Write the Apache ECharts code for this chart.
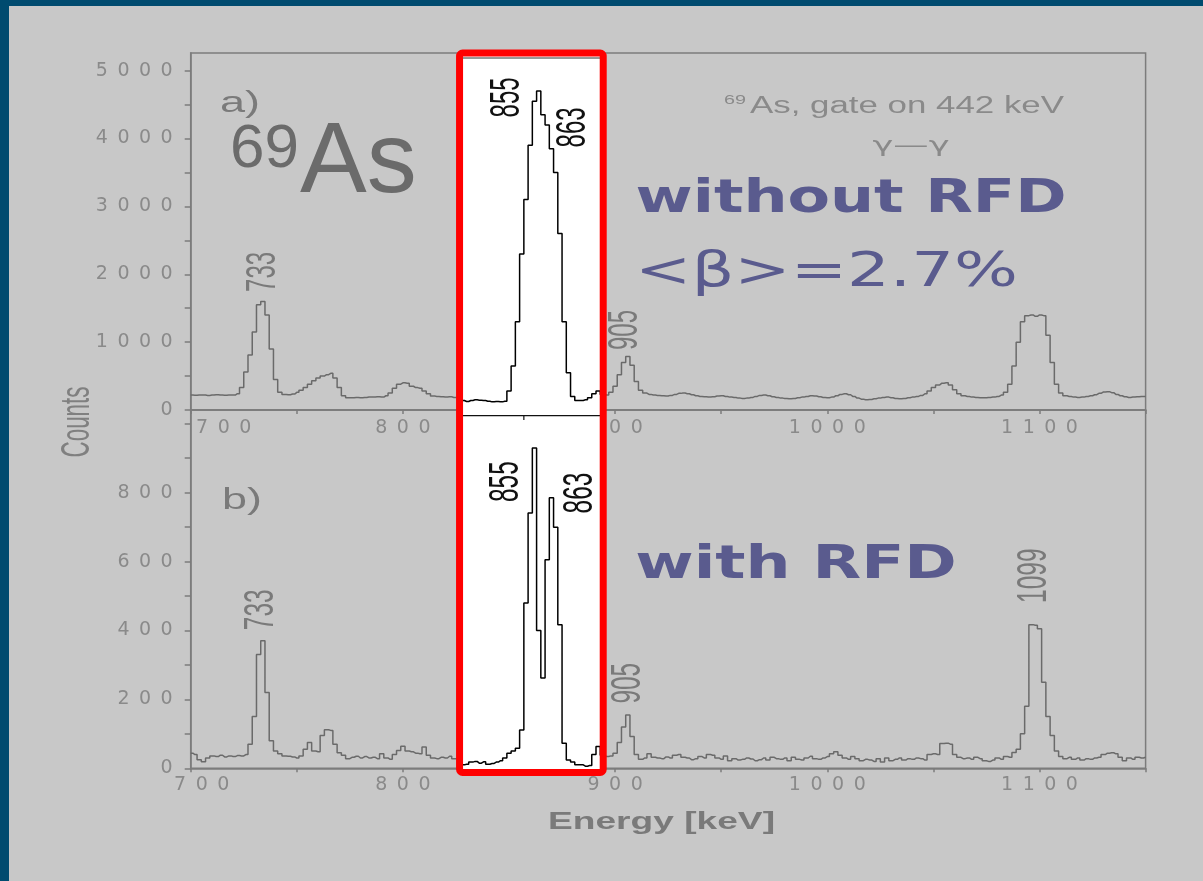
<!DOCTYPE html>
<html><head><meta charset="utf-8">
<script src="https://cdn.jsdelivr.net/npm/echarts@6/dist/echarts.min.js"></script>
<style>
html,body{margin:0;padding:0;width:1203px;height:881px;overflow:hidden;background:#004b6f;}
#bg{position:absolute;left:9px;top:6px;right:0;bottom:0;background:#c8c8c8;}
#chart{position:absolute;left:0;top:0;width:1203px;height:881px;}
</style></head><body><div id="bg"></div><div id="chart"></div>
<script>
// ---- data: panel a) without RFD, [energy keV, counts] ----
const spectrumA = [
[700,220],[702,218],[704,222],[706,220],[708,215],[710,220],[712,225],[714,220],[716,218],[718,222],
[720,220],[722,240],[724,330],[726,560],[728,810],[730,1150],[732,1550],[734,1600],[736,1400],[738,900],
[740,450],[742,260],[744,230],[746,225],[748,235],[750,260],[752,290],[754,330],[756,380],[758,430],
[760,470],[762,500],[764,520],[766,540],[768,470],[770,330],[772,210],[774,180],[776,180],[778,185],
[780,180],[782,185],[784,190],[786,190],[788,195],[790,190],[792,210],[794,250],[796,320],[798,380],
[800,400],[802,395],[804,350],[806,330],[808,320],[810,280],[812,240],[814,205],[816,200],[818,195],
[820,190],[822,195],[824,185],[826,190],[828,140],[830,125],[832,140],[834,150],[836,145],[838,140],
[840,130],[842,120],[844,125],[846,120],[848,130],[850,280],[852,650],[854,1300],[856,2300],[858,3100],
[860,3900],[862,4550],[864,4700],[866,4350],[868,4200],[870,3850],[872,3500],[874,2600],[876,1300],[878,550],
[880,200],[882,140],[884,140],[886,150],[888,180],[890,240],[892,280],[894,230],[896,220],[898,260],
[900,350],[902,520],[904,700],[906,790],[908,660],[910,420],[912,290],[914,250],[916,230],[918,220],
[920,215],[922,210],[924,205],[926,215],[928,230],[930,245],[932,250],[934,240],[936,225],[938,210],
[940,200],[942,195],[944,190],[946,195],[948,205],[950,210],[952,200],[954,190],[956,185],[958,175],
[960,170],[962,175],[964,185],[966,200],[968,215],[970,220],[972,210],[974,195],[976,185],[978,175],
[980,170],[982,165],[984,170],[986,180],[988,190],[990,200],[992,210],[994,205],[996,195],[998,185],
[1000,180],[1002,190],[1004,210],[1006,230],[1008,240],[1010,225],[1012,200],[1014,175],[1016,160],[1018,150],
[1020,155],[1022,165],[1024,175],[1026,185],[1028,190],[1030,180],[1032,170],[1034,165],[1036,170],[1038,180],
[1040,190],[1042,200],[1044,215],[1046,240],[1048,280],[1050,330],[1052,370],[1054,395],[1056,400],[1058,370],
[1060,300],[1062,240],[1064,210],[1066,200],[1068,190],[1070,185],[1072,180],[1074,180],[1076,185],[1078,190],
[1080,200],[1082,220],[1084,260],[1086,380],[1088,650],[1090,1000],[1092,1300],[1094,1390],[1096,1400],[1098,1380],
[1100,1400],[1102,1390],[1104,1100],[1106,700],[1108,380],[1110,250],[1112,210],[1114,200],[1116,190],[1118,185],
[1120,190],[1122,200],[1124,210],[1126,225],[1128,245],[1130,265],[1132,270],[1134,255],[1136,230],[1138,210],
[1140,195],[1142,185],[1144,190],[1146,195],[1148,200],[1150,200]
];
// ---- data: panel b) with RFD ----
const spectrumB = [
[700,44],[702,40],[704,25],[706,19],[708,30],[710,36],[712,34],[714,38],[716,33],[718,36],
[720,34],[722,37],[724,36],[726,40],[728,70],[730,150],[732,330],[734,370],[736,220],[738,80],
[740,50],[742,42],[744,36],[746,35],[748,33],[750,30],[752,36],[754,55],[756,75],[758,50],
[760,48],[762,95],[764,112],[766,110],[768,70],[770,45],[772,38],[774,28],[776,32],[778,35],
[780,30],[782,34],[784,30],[786,32],[788,28],[790,42],[792,30],[794,26],[796,40],[798,52],
[800,64],[802,50],[804,48],[806,44],[808,42],[810,62],[812,38],[814,30],[816,28],[818,32],
[820,30],[822,35],[824,28],[826,30],[828,10],[830,12],[832,18],[834,20],[836,15],[838,19],
[840,12],[842,14],[844,18],[846,22],[848,30],[850,44],[852,50],[854,58],[856,111],[858,480],
[860,741],[862,930],[864,400],[866,262],[868,605],[870,785],[872,700],[874,417],[876,73],[878,24],
[880,18],[882,10],[884,10],[886,6],[888,8],[890,40],[892,63],[894,38],[896,34],[898,36],
[900,44],[902,75],[904,120],[906,155],[908,92],[910,40],[912,26],[914,30],[916,42],[918,32],
[920,30],[922,28],[924,33],[926,30],[928,38],[930,40],[932,32],[934,30],[936,25],[938,28],
[940,34],[942,30],[944,40],[946,38],[948,30],[950,26],[952,36],[954,22],[956,28],[958,24],
[960,26],[962,30],[964,27],[966,22],[968,25],[970,30],[972,24],[974,32],[976,28],[978,26],
[980,30],[982,22],[984,32],[986,26],[988,24],[990,30],[992,35],[994,28],[996,26],[998,30],
[1000,34],[1002,42],[1004,48],[1006,38],[1008,30],[1010,26],[1012,34],[1014,28],[1016,22],[1018,26],
[1020,24],[1022,20],[1024,28],[1026,18],[1028,30],[1030,22],[1032,26],[1034,30],[1036,24],[1038,28],
[1040,26],[1042,30],[1044,28],[1046,24],[1048,40],[1050,42],[1052,40],[1054,72],[1056,73],[1058,70],
[1060,40],[1062,32],[1064,28],[1066,30],[1068,26],[1070,32],[1072,28],[1074,22],[1076,20],[1078,24],
[1080,30],[1082,26],[1084,34],[1086,32],[1088,46],[1090,55],[1092,100],[1094,180],[1096,417],[1098,415],
[1100,405],[1102,250],[1104,150],[1106,95],[1108,50],[1110,34],[1112,28],[1114,32],[1116,26],[1118,30],
[1120,24],[1122,28],[1124,26],[1126,30],[1128,32],[1130,40],[1132,44],[1134,45],[1136,42],[1138,32],
[1140,22],[1142,30],[1144,26],[1146,32],[1148,30],[1150,32]
];
// ---- axes ----
const xRange = [700, 1150];
const xTicks = [700,750,800,850,900,950,1000,1050,1100,1150];
const xLabels = [700,800,900,1000,1100];
const yMaxA = 5260, yTicksA = [0,500,1000,1500,2000,2500,3000,3500,4000,4500,5000], yLabelsA = [0,1000,2000,3000,4000,5000];
const yMaxB = 1040, yTicksB = [0,100,200,300,400,500,600,700,800,900,1000], yLabelsB = [0,200,400,600,800];
// highlighted window (keV)
const rfdBox = [826.7, 894.4];
// peak labels: [text, energy, counts] (label centre in data space)
const peakLabelsA = [['733',733.9,2034,'#7a7a7a'],['855',849.0,4605,'#111'],['863',880.0,4163,'#111'],['905',904.8,1179,'#7a7a7a']];
const peakLabelsB = [['733',733.1,460,'#7a7a7a'],['855',848.7,832,'#111'],['863',883.5,799,'#111'],['905',906.0,247,'#7a7a7a'],['1099',1097.4,559,'#7a7a7a']];

const GRAY = '#7c7c7c', LINE = '#6a6a6a', TXT = '#8a8a8a';
const FONT = "'Liberation Sans', Arial, sans-serif";
const TICKFONT = "'DejaVu Sans', sans-serif";
const sp = v => String(v).split('').join('\u2002');

function xAxisCfg(grid, padMin, margin){
  return {type:'value', gridIndex:grid, min:xRange[0], max:xRange[1],
    axisLine:{show:true, onZero:false, lineStyle:{color:GRAY, width:1.5}},
    axisTick:{show:true, length:4, customValues:xTicks, lineStyle:{color:GRAY, width:1.5}},
    axisLabel:{customValues:xLabels, margin:margin, color:TXT, fontSize:19, fontFamily:TICKFONT,
      formatter: v => v === xRange[0] ? '{p|' + sp(v) + '}' : sp(v),
      rich:{p:{padding:[0,0,0,padMin], color:TXT, fontSize:19, fontFamily:TICKFONT}}},
    splitLine:{show:false}};
}
function yAxisCfg(grid, max, ticks, labels){
  return {type:'value', gridIndex:grid, min:0, max:max,
    axisLine:{show:true, lineStyle:{color:GRAY, width:1.5}},
    axisTick:{show:true, length:6, customValues:ticks, lineStyle:{color:GRAY, width:1.5}},
    axisLabel:{customValues:labels, margin:18, color:TXT, fontSize:19, fontFamily:TICKFONT, formatter: v => sp(v)},
    splitLine:{show:false}};
}

const chart = echarts.init(document.getElementById('chart'), null, {renderer:'canvas'});
const option = {
  backgroundColor:'transparent',
  animation:false,
  grid:[
    {left:190.7, top:53, width:954.9, height:357, show:true, borderColor:GRAY, borderWidth:1.5, backgroundColor:'transparent'},
    {left:190.7, top:410, width:954.9, height:358.3, show:true, borderColor:GRAY, borderWidth:1.5, backgroundColor:'transparent'}
  ],
  xAxis:[xAxisCfg(0, 66, 9), xAxisCfg(1, 22, 7)],
  yAxis:[yAxisCfg(0, yMaxA, yTicksA, yLabelsA), yAxisCfg(1, yMaxB, yTicksB, yLabelsB)],
  visualMap:[0,1].map(i => ({type:'piecewise', show:false, dimension:0, seriesIndex:i,
    pieces:[{min:rfdBox[0], max:rfdBox[1], color:'#000000'}], outOfRange:{color:LINE}})),
  series:[
    {name:'without RFD', type:'line', xAxisIndex:0, yAxisIndex:0, step:'middle', symbol:'none', data:spectrumA, lineStyle:{width:1.5}, z:5},
    {name:'with RFD', type:'line', xAxisIndex:1, yAxisIndex:1, step:'middle', symbol:'none', data:spectrumB, lineStyle:{width:1.5}, z:5}
  ]
};
chart.setOption(option);

// ---- annotations ----
const mctx = document.createElement('canvas').getContext('2d');
function mw(text, font){ mctx.font = font; return mctx.measureText(text).width; }
function htext(text, cx, cy, size, len, fill, opts){
  opts = opts || {};
  const font = (opts.weight || 'normal') + ' ' + size + 'px ' + (opts.family || FONT);
  const sx = len / mw(text, font);
  return {type:'text', x:cx, y:cy, scaleX:sx, scaleY:opts.sy || 1, z:60,
    style:{text:text, font:font, fill:fill, align:opts.align || 'center', verticalAlign:'middle'}};
}
function vtext(text, cx, cy, size, len, sy, fill, weight){
  const font = (weight || 'normal') + ' ' + size + 'px ' + FONT;
  const sx = len / mw(text, font);
  return {type:'text', x:cx, y:cy, rotation:Math.PI/2, scaleX:sx, scaleY:sy, z:60,
    style:{text:text, font:font, fill:fill, align:'center', verticalAlign:'middle'}};
}

const g = [];
const x0 = chart.convertToPixel({xAxisIndex:0}, rfdBox[0]);
const x1 = chart.convertToPixel({xAxisIndex:0}, rfdBox[1]);
const topA = chart.convertToPixel({yAxisIndex:0}, yMaxA);
const zeroA = chart.convertToPixel({yAxisIndex:0}, 0);
const zeroB = chart.convertToPixel({yAxisIndex:1}, 0);
g.push({type:'rect', z:1, shape:{x:x0, y:topA, width:x1-x0, height:zeroB + 4.2 - topA}, style:{fill:'#ffffff'}});
g.push({type:'line', z:3, shape:{x1:x0, y1:topA + 5, x2:x1, y2:topA + 5}, style:{stroke:'#333', lineWidth:1}});
g.push({type:'line', z:3, shape:{x1:x0, y1:zeroA + 5.7, x2:x1, y2:zeroA + 5.7}, style:{stroke:'#111', lineWidth:1.2}});
const tickX = chart.convertToPixel({xAxisIndex:0}, 857);
g.push({type:'line', z:3, shape:{x1:tickX, y1:zeroA + 5.7, x2:tickX, y2:zeroA + 10}, style:{stroke:'#111', lineWidth:1.2}});
g.push({type:'rect', z:100, shape:{x:x0, y:topA, width:x1-x0, height:zeroB + 4.2 - topA, r:3}, style:{fill:'none', stroke:'#ff0000', lineWidth:7}});

peakLabelsA.forEach(p => {
  const pt = chart.convertToPixel({gridIndex:0}, [p[1], p[2]]);
  g.push(vtext(p[0], pt[0], pt[1], 24, 40, 1.8, p[3]));
});
peakLabelsB.forEach(p => {
  const pt = chart.convertToPixel({gridIndex:1}, [p[1], p[2]]);
  g.push(vtext(p[0], pt[0], pt[1], 24, p[0].length * 13.6, 1.8, p[3]));
});

g.push(vtext('Counts', 78, 422, 22, 71, 1.85, '#808080'));
g.push(htext('Energy [keV]', 661.5, 823, 23, 227, '#7a7a7a', {weight:'bold'}));

g.push(htext('a)', 240, 104, 30, 40, '#7a7a7a'));
g.push(htext('b)', 242, 501, 30, 40, '#7a7a7a'));

g.push({type:'text', x:230, y:150, z:60, style:{text:'69', font:"62px " + FONT, fill:'#6b6b6b', align:'left', verticalAlign:'middle'}});
g.push({type:'text', x:300, y:164, z:60, style:{text:'As', font:"100px " + FONT, fill:'#6b6b6b', align:'left', verticalAlign:'middle'}});

g.push(htext('69', 735, 100, 13, 22, '#8a8a8a'));
g.push(htext('As, gate on 442 keV', 750, 107, 23, 314, '#8a8a8a', {align:'left'}));
g.push(htext('γ—γ', 911, 147, 21, 77, '#8a8a8a', {family:"'DejaVu Sans', sans-serif"}));

const BLUE = '#5a5b8e';
g.push(htext('without RFD', 851, 200, 46, 431, BLUE, {weight:'bold', family:"'DejaVu Sans', sans-serif"}));
g.push(htext('<β>=2.7%', 826.5, 274, 48, 383, BLUE, {family:"'DejaVu Sans', sans-serif"}));
g.push(htext('with RFD', 796, 566, 46, 321.5, BLUE, {weight:'bold', family:"'DejaVu Sans', sans-serif"}));

chart.setOption({graphic:{elements:g}});
</script></body></html>
